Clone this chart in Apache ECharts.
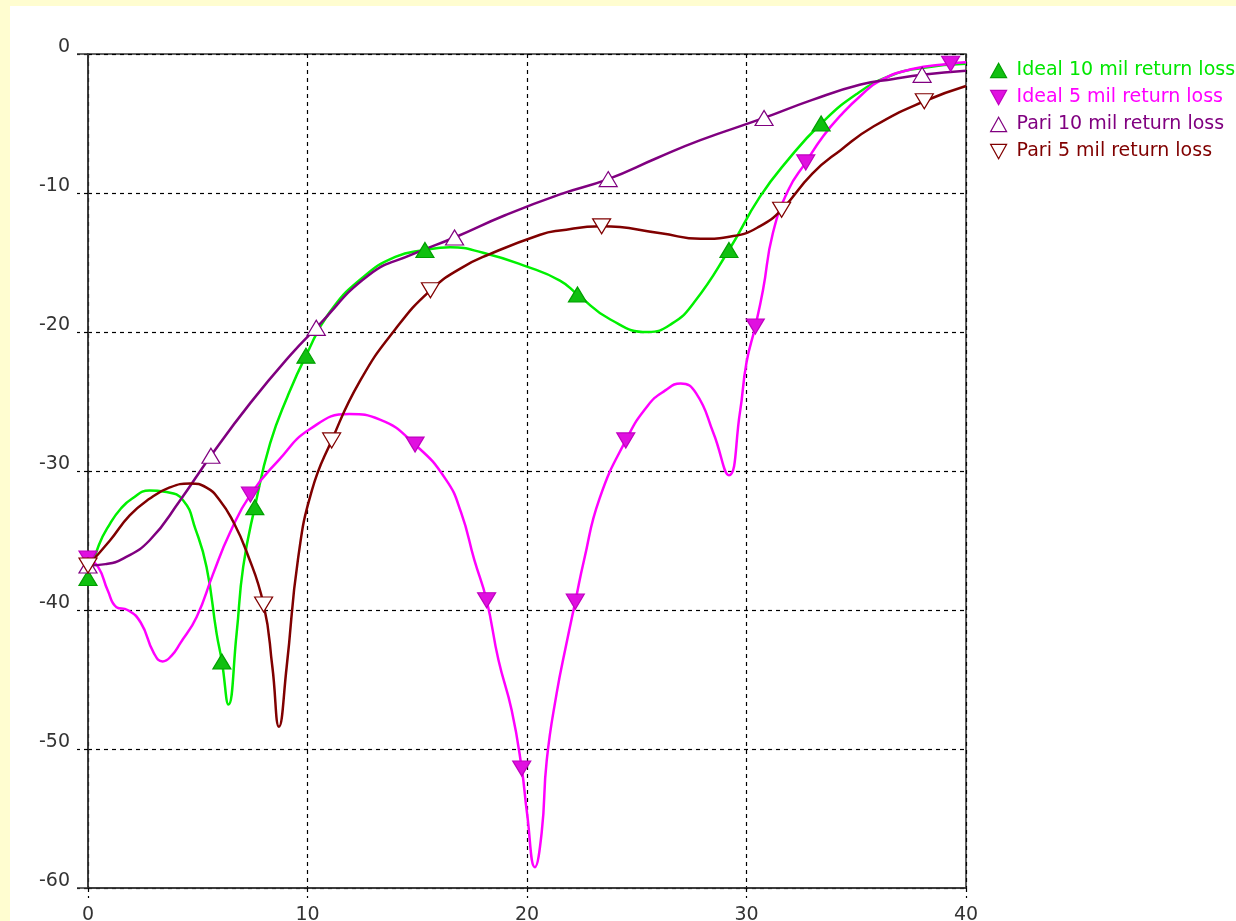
<!DOCTYPE html>
<html>
<head>
<meta charset="utf-8">
<script src="https://cdn.jsdelivr.net/npm/echarts@6/dist/echarts.min.js"></script>
<style>
  html, body { margin: 0; padding: 0; background: #FFFDD0; width: 1236px; height: 921px; overflow: hidden; }
  #chart { position: absolute; left: 10px; top: 6px; width: 1226px; height: 915px; background: #ffffff; }
</style>
</head>
<body>
<div id="chart"></div>
<script>
// ---- data (x axis 0..40, y = return loss) ----
const seriesNames = ['Ideal 10 mil return loss', 'Ideal 5 mil return loss', 'Pari 10 mil return loss', 'Pari 5 mil return loss'];
const xTicks = [0, 10, 20, 30, 40];
const yTicks = [0, -10, -20, -30, -40, -50, -60];

const ideal10Curve = [
  [0, -37.7], [0.5, -35.3], [1, -33.8], [1.5, -32.7], [2, -32.0], [2.8, -31.4], [3.5, -31.5],
  [4.33, -32.1], [4.9, -34.2], [5.4, -36.9], [5.86, -41.7], [6.1, -43.7], [6.4, -46.8],
  [6.77, -41.7], [7.07, -36.9], [7.6, -32.6], [8.3, -28.0], [9.1, -24.6], [9.93, -21.7],
  [11, -18.6], [12.5, -16.1], [14, -14.6], [15.35, -14.1], [16.5, -13.9], [18, -14.3],
  [20, -15.3], [21.5, -16.3], [22.3, -17.3], [23.8, -19.1], [25.5, -20.0], [26.6, -19.4],
  [27.6, -17.9], [29.2, -14.1], [30.6, -10.3], [31.9, -7.6], [33.4, -5.0], [35, -2.9],
  [36.5, -1.6], [38, -1.0], [40, -0.7]
];
const ideal10Marks = [[0, -37.7], [6.1, -43.7], [7.6, -32.6], [9.93, -21.7], [15.35, -14.1], [22.3, -17.3], [29.2, -14.1], [33.4, -5.0]];

const ideal5Curve = [
  [0, -36.3], [0.46, -36.9], [0.9, -38.6], [1.3, -39.8], [1.8, -40.0], [2.4, -40.9], [3.0, -43.1],
  [3.4, -43.7], [3.8, -43.3], [4.2, -42.4], [4.95, -40.5], [5.7, -37.4], [6.45, -34.5], [7.4, -31.7],
  [8.7, -29.2], [10.1, -27.0], [11.9, -25.9], [13.3, -26.3], [14.9, -28.1], [16.3, -30.6],
  [17.0, -33.0], [17.6, -36.4], [18.16, -39.3], [18.7, -43.6], [19.3, -47.2], [19.76, -51.4],
  [20.0, -54.6], [20.36, -58.5], [20.67, -56.0], [20.9, -50.8], [21.35, -46.0], [21.8, -42.4],
  [22.2, -39.4], [22.6, -36.4], [23.3, -32.0], [24.5, -27.8], [25.5, -25.3], [26.3, -24.2],
  [27.0, -23.7], [27.7, -24.4], [28.5, -27.3], [29.2, -30.3], [29.7, -25.8], [30.0, -22.2],
  [30.4, -19.6], [30.75, -17.0], [31.2, -12.9], [31.9, -9.8], [32.7, -7.8], [33.5, -5.9],
  [34.3, -4.4], [35.2, -3.0], [36.1, -1.9], [37.5, -1.1], [39.3, -0.7], [40, -0.6]
];
const ideal5Marks = [[0, -36.3], [7.4, -31.7], [14.9, -28.1], [18.16, -39.3], [19.76, -51.4], [22.2, -39.4], [24.5, -27.8], [30.4, -19.6], [32.7, -7.8], [39.3, -0.7]];

const pari10Curve = [
  [0, -36.8], [0.8, -36.7], [1.6, -36.3], [2.8, -35.0], [4.2, -32.1], [5.6, -28.9], [7.4, -25.1],
  [9.2, -21.7], [10.4, -19.7], [12.8, -15.9], [14.8, -14.4], [16.7, -13.2], [19, -11.6],
  [21.5, -10.1], [23.7, -9.0], [25.9, -7.5], [27.9, -6.2], [30.8, -4.6], [33, -3.3],
  [35.2, -2.2], [36.7, -1.8], [38.0, -1.5], [40, -1.2]
];
const pari10Marks = [[0, -36.8], [5.6, -28.9], [10.4, -19.7], [16.7, -13.2], [23.7, -9.0], [30.8, -4.6], [38.0, -1.5]];

const pari5Curve = [
  [0, -36.8], [1.0, -35.0], [1.9, -33.2], [2.8, -32.0], [3.7, -31.2], [4.65, -30.9], [5.4, -31.2],
  [6.0, -32.1], [6.6, -33.6], [7.2, -35.7], [8.0, -39.6], [8.4, -44.1], [8.7, -48.4],
  [9.05, -44.1], [9.57, -36.3], [10.2, -31.4], [11.1, -27.8], [12.4, -23.5], [14.0, -19.8],
  [15.6, -17.0], [17.0, -15.4], [18.3, -14.4], [20.6, -13.0], [21.5, -12.7], [23.4, -12.4],
  [26.1, -12.9], [27.9, -13.3], [29.4, -13.1], [30.6, -12.4], [31.6, -11.2], [33.0, -8.6],
  [34.3, -6.9], [35.8, -5.2], [38.1, -3.4], [40, -2.3]
];
const pari5Marks = [[0, -36.8], [8.0, -39.6], [11.1, -27.8], [15.6, -17.0], [23.4, -12.4], [31.6, -11.2], [38.1, -3.4]];

// ---- styles ----
const colors = ['#00F000', '#FF00FF', '#800080', '#800000'];
const textColors = ['#00E600', '#FF00FF', '#800080', '#800000'];
const markFill = ['#10C010', '#E010E0', '#FFFFFF', '#FFFFFF'];
const markBorder = ['#00A000', '#C000C0', '#800080', '#800000'];
const markRotate = [0, 180, 0, 180];
const curves = [ideal10Curve, ideal5Curve, pari10Curve, pari5Curve];
const marks = [ideal10Marks, ideal5Marks, pari10Marks, pari5Marks];
const downTri = 'path://M0,0 L10,0 L5,9 Z';
const upTri = 'path://M5,0 L10,9 L0,9 Z';
const legendIcons = [upTri, downTri, upTri, downTri];

const font = 'DejaVu Sans, Verdana, sans-serif';
const series = [];
for (let i = 0; i < 4; i++) {
  series.push({
    name: seriesNames[i], type: 'line', data: curves[i], showSymbol: false, symbol: 'none',
    smooth: 0.5, lineStyle: { color: colors[i], width: 2.5 }, itemStyle: { color: colors[i] },
    z: 2 + i
  });
}
for (let i = 0; i < 4; i++) {
  series.push({
    name: seriesNames[i], type: 'scatter', data: marks[i], symbol: 'triangle', symbolSize: [18, 15],
    symbolRotate: markRotate[i],
    itemStyle: { color: markFill[i], borderColor: markBorder[i], borderWidth: 1.2, opacity: 1 },
    z: 10
  });
}

const axisCommon = { color: '#333', width: 1.5 };
const dashStyle = { color: '#000', type: [4, 4], width: 1.2 };

const chart = echarts.init(document.getElementById('chart'), null, { renderer: 'canvas' });
chart.setOption({
  animation: false,
  backgroundColor: '#ffffff',
  grid: { left: 78, top: 48, right: 270, bottom: 33, outerBoundsMode: 'none', containLabel: false,
          show: true, borderColor: '#333', borderWidth: 1.5, backgroundColor: 'transparent' },
  legend: {
    orient: 'vertical', left: 975, top: 50, itemWidth: 16, itemHeight: 15, itemGap: 8,
    textStyle: { fontFamily: font, fontSize: 19, padding: [0, 0, 0, 5] },
    data: seriesNames.map((n, i) => ({
      name: n, icon: legendIcons[i],
      itemStyle: { color: markFill[i], borderColor: markBorder[i], borderWidth: 1.2 },
      textStyle: { color: textColors[i] }
    }))
  },
  xAxis: [{
    type: 'value', min: 0, max: 40, interval: 10,
    axisLine: { show: true, onZero: false, lineStyle: axisCommon },
    axisTick: { show: true, length: 10, lineStyle: dashStyle },
    axisLabel: { color: '#333', fontFamily: font, fontSize: 19, margin: 18 },
    splitLine: { show: true, lineStyle: dashStyle }
  }, {
    type: 'value', min: 0, max: 40, interval: 40, position: 'bottom',
    axisLine: { show: false }, axisLabel: { show: false }, splitLine: { show: false },
    axisTick: { show: true, length: 10, lineStyle: axisCommon }
  }],
  yAxis: [{
    type: 'value', min: -60, max: 0, interval: 10,
    axisLine: { show: true, onZero: false, lineStyle: axisCommon },
    axisTick: { show: true, length: 11, lineStyle: dashStyle },
    axisLabel: { color: '#333', fontFamily: font, fontSize: 19, margin: 18, verticalAlign: 'bottom', lineHeight: 14 },
    splitLine: { show: true, lineStyle: dashStyle }
  }, {
    type: 'value', min: -60, max: 0, interval: 60, position: 'left',
    axisLine: { show: false }, axisLabel: { show: false }, splitLine: { show: false },
    axisTick: { show: true, length: 11, lineStyle: axisCommon }
  }],
  series: series
});
</script>
</body>
</html>
